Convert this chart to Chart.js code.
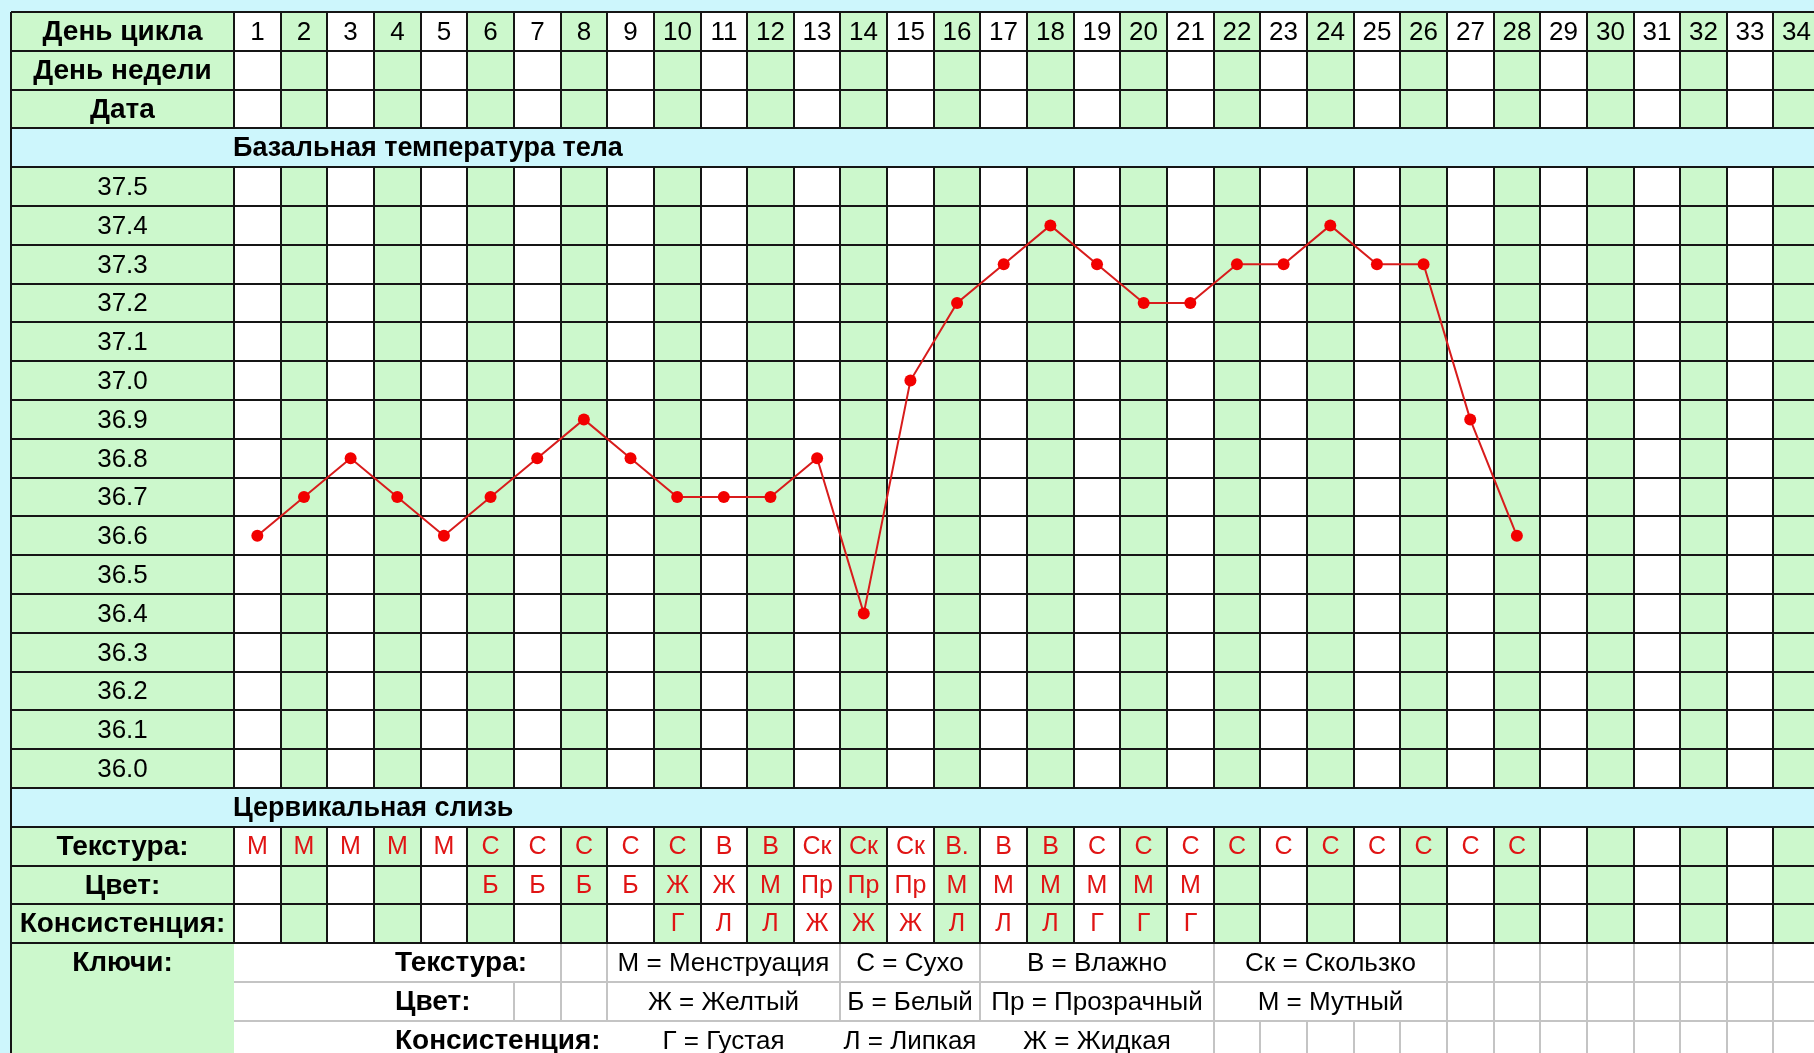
<!DOCTYPE html>
<html lang="ru">
<head>
<meta charset="utf-8">
<title>График базальной температуры</title>
<script src="https://cdn.jsdelivr.net/npm/chart.js@4.4.1/dist/chart.umd.min.js"></script>
<style>
  html, body { margin: 0; padding: 0; background: #cdf6fc; }
  #wrap { width: 1814px; height: 1053px; }
</style>
</head>
<body>
<div id="wrap"><canvas id="bbtChart" width="1814" height="1053"></canvas></div>
<script>
const cycleDays = [1, 2, 3, 4, 5, 6, 7, 8, 9, 10, 11, 12, 13, 14, 15, 16, 17,
  18, 19, 20, 21, 22, 23, 24, 25, 26, 27, 28, 29, 30, 31, 32, 33, 34];
const tempLabels = ["37.5", "37.4", "37.3", "37.2", "37.1", "37.0", "36.9", "36.8",
  "36.7", "36.6", "36.5", "36.4", "36.3", "36.2", "36.1", "36.0"];
const bbtValues = [36.6, 36.7, 36.8, 36.7, 36.6, 36.7, 36.8, 36.9, 36.8, 36.7,
  36.7, 36.7, 36.8, 36.4, 37.0, 37.2, 37.3, 37.4, 37.3, 37.2,
  37.2, 37.3, 37.3, 37.4, 37.3, 37.3, 36.9, 36.6];

const texture = ["М", "М", "М", "М", "М", "С", "С", "С", "С", "С", "В", "В", "Ск", "Ск",
  "Ск", "В.", "В", "В", "С", "С", "С", "С", "С", "С", "С", "С", "С", "С"];
const mucusColor = ["", "", "", "", "", "Б", "Б", "Б", "Б", "Ж", "Ж", "М", "Пр", "Пр",
  "Пр", "М", "М", "М", "М", "М", "М"];
const consistency = ["", "", "", "", "", "", "", "", "", "Г", "Л", "Л", "Ж", "Ж",
  "Ж", "Л", "Л", "Л", "Г", "Г", "Г"];

const headerRows = ["День цикла", "День недели", "Дата"];
const mucusRows = ["Текстура:", "Цвет:", "Консистенция:"];
const bbtTitle = "Базальная температура тела";
const mucusTitle = "Цервикальная слизь";
const keysLabel = "Ключи:";
const keyTexture = ["М = Менструация", "С = Сухо", "В = Влажно", "Ск = Скользко"];
const keyColor = ["Ж = Желтый", "Б = Белый", "Пр = Прозрачный", "М = Мутный"];
const keyConsistency = ["Г = Густая", "Л = Липкая", "Ж = Жидкая"];

const GREEN = "#ccf8cc";
const CYAN = "#cdf6fc";
const INK = "#151515";
const GRAY = "#c4c4c4";
const FONT = '"Liberation Sans", Arial, sans-serif';

// one table row = 0.1 degree on the y scale
const ROW = 0.1;
const yTop = parseFloat(tempLabels[0]) + ROW / 2 + ROW * 4;
const yMin = yTop - ROW * 26.83;

// merged key cells (column boundaries) and the thin lines that show between them
const keySpans = [[8, 13], [13, 16], [16, 21], [21, 26]];
const keyLines = [
  [7, 8, 13, 16, 21, 26, 27, 28, 29, 30, 31, 32, 33],
  [6, 7, 8, 13, 16, 21, 26, 27, 28, 29, 30, 31, 32, 33],
  [21, 22, 23, 24, 25, 26, 27, 28, 29, 30, 31, 32, 33]
];

const tablePlugin = {
  id: "bbtTable",
  beforeDatasetsDraw(chart) {
    const { ctx, scales: { x, y } } = chart;
    const left = x.left - 223;
    const right = chart.width;
    const rowTop = (k) => Math.round(y.getPixelForValue(yTop - ROW * k));
    const colX = (k) => Math.round(x.getPixelForValue(k + 0.5));
    const labelMid = (left + x.left) / 2;
    const nCols = cycleDays.length;

    ctx.save();
    ctx.fillStyle = CYAN;
    ctx.fillRect(0, 0, chart.width, chart.height);

    const gridRows = [];
    headerRows.forEach((label, i) =>
      gridRows.push({ k: i, label, bold: true, cells: i === 0 ? cycleDays.map(String) : [] }));
    tempLabels.forEach((label, i) =>
      gridRows.push({ k: 4 + i, label, bold: false, cells: [] }));
    [texture, mucusColor, consistency].forEach((cells, i) =>
      gridRows.push({ k: 21 + i, label: mucusRows[i], bold: true, cells, red: true }));

    // cell fills
    gridRows.forEach(r => {
      const t = rowTop(r.k), b = rowTop(r.k + 1);
      ctx.fillStyle = GREEN;
      ctx.fillRect(left, t, x.left - left, b - t);
      cycleDays.forEach((d, i) => {
        ctx.fillStyle = d % 2 === 0 ? GREEN : "#ffffff";
        ctx.fillRect(colX(i), t, colX(i + 1) - colX(i), b - t);
      });
    });

    // keys block
    const kTop = rowTop(24);
    ctx.fillStyle = GREEN;
    ctx.fillRect(left, kTop, x.left - left, chart.height - kTop);
    ctx.fillStyle = "#ffffff";
    ctx.fillRect(x.left, kTop, right - x.left, chart.height - kTop);

    ctx.lineWidth = 2;
    ctx.strokeStyle = GRAY;
    [25, 26].forEach(k => {
      ctx.beginPath();
      ctx.moveTo(x.left, rowTop(k));
      ctx.lineTo(right, rowTop(k));
      ctx.stroke();
    });
    keyLines.forEach((list, i) => {
      const t = rowTop(24 + i), b = rowTop(25 + i);
      list.forEach(k => {
        ctx.beginPath();
        ctx.moveTo(colX(k), t);
        ctx.lineTo(colX(k), b);
        ctx.stroke();
      });
    });

    // black grid
    ctx.strokeStyle = INK;
    gridRows.forEach(r => {
      const t = rowTop(r.k), b = rowTop(r.k + 1);
      ctx.beginPath();
      ctx.moveTo(left, t); ctx.lineTo(right, t);
      ctx.moveTo(left, b); ctx.lineTo(right, b);
      ctx.moveTo(x.left, t); ctx.lineTo(x.left, b);
      for (let i = 1; i <= nCols; i++) {
        ctx.moveTo(colX(i), t); ctx.lineTo(colX(i), b);
      }
      ctx.stroke();
    });
    ctx.beginPath();
    ctx.moveTo(left, rowTop(0));
    ctx.lineTo(left, chart.height);
    ctx.stroke();

    // texts
    ctx.textBaseline = "middle";
    gridRows.forEach(r => {
      const mid = (rowTop(r.k) + rowTop(r.k + 1)) / 2 + 1;
      ctx.fillStyle = "#000";
      ctx.textAlign = "center";
      ctx.font = (r.bold ? "bold 28px " : "26px ") + FONT;
      ctx.fillText(r.label, labelMid, mid);
      ctx.font = r.red ? "25px " + FONT : "26px " + FONT;
      ctx.fillStyle = r.red ? "#e01414" : "#000";
      r.cells.forEach((txt, i) => {
        if (txt) ctx.fillText(txt, (colX(i) + colX(i + 1)) / 2, mid);
      });
    });

    ctx.fillStyle = "#000";
    ctx.font = "bold 27px " + FONT;
    ctx.textAlign = "left";
    ctx.fillText(bbtTitle, x.left - 1, (rowTop(3) + rowTop(4)) / 2 + 1);
    ctx.fillText(mucusTitle, x.left - 1, (rowTop(20) + rowTop(21)) / 2 + 1);

    ctx.font = "bold 28px " + FONT;
    ctx.textAlign = "center";
    ctx.fillText(keysLabel, labelMid, (rowTop(24) + rowTop(25)) / 2 + 1);

    [keyTexture, keyColor, keyConsistency].forEach((items, i) => {
      const mid = (rowTop(24 + i) + rowTop(25 + i)) / 2 + 1;
      ctx.font = "bold 28px " + FONT;
      ctx.textAlign = "left";
      ctx.fillText(mucusRows[i], x.getPixelForValue(3.95), mid);
      ctx.font = "26px " + FONT;
      ctx.textAlign = "center";
      items.forEach((txt, j) => {
        const [a, b] = keySpans[j];
        ctx.fillText(txt, (colX(a) + colX(b)) / 2, mid);
      });
    });
    ctx.restore();
  }
};

new Chart(document.getElementById("bbtChart"), {
  type: "line",
  data: {
    datasets: [{
      data: bbtValues.map((v, i) => ({ x: cycleDays[i], y: v })),
      borderColor: "#d81c1c",
      borderWidth: 2,
      pointRadius: 6,
      pointBackgroundColor: "#f20000",
      pointBorderWidth: 0,
      tension: 0
    }]
  },
  options: {
    responsive: false,
    animation: false,
    layout: { autoPadding: false, padding: { left: 234, top: 12, right: 0, bottom: 0 } },
    scales: {
      x: { type: "linear", display: false, min: 0.5, max: 0.5 + (1814 - 234) / 46.65 },
      y: { display: false, min: yMin, max: yTop }
    },
    plugins: { legend: { display: false }, tooltip: { enabled: false } }
  },
  plugins: [tablePlugin]
});
</script>
</body>
</html>
